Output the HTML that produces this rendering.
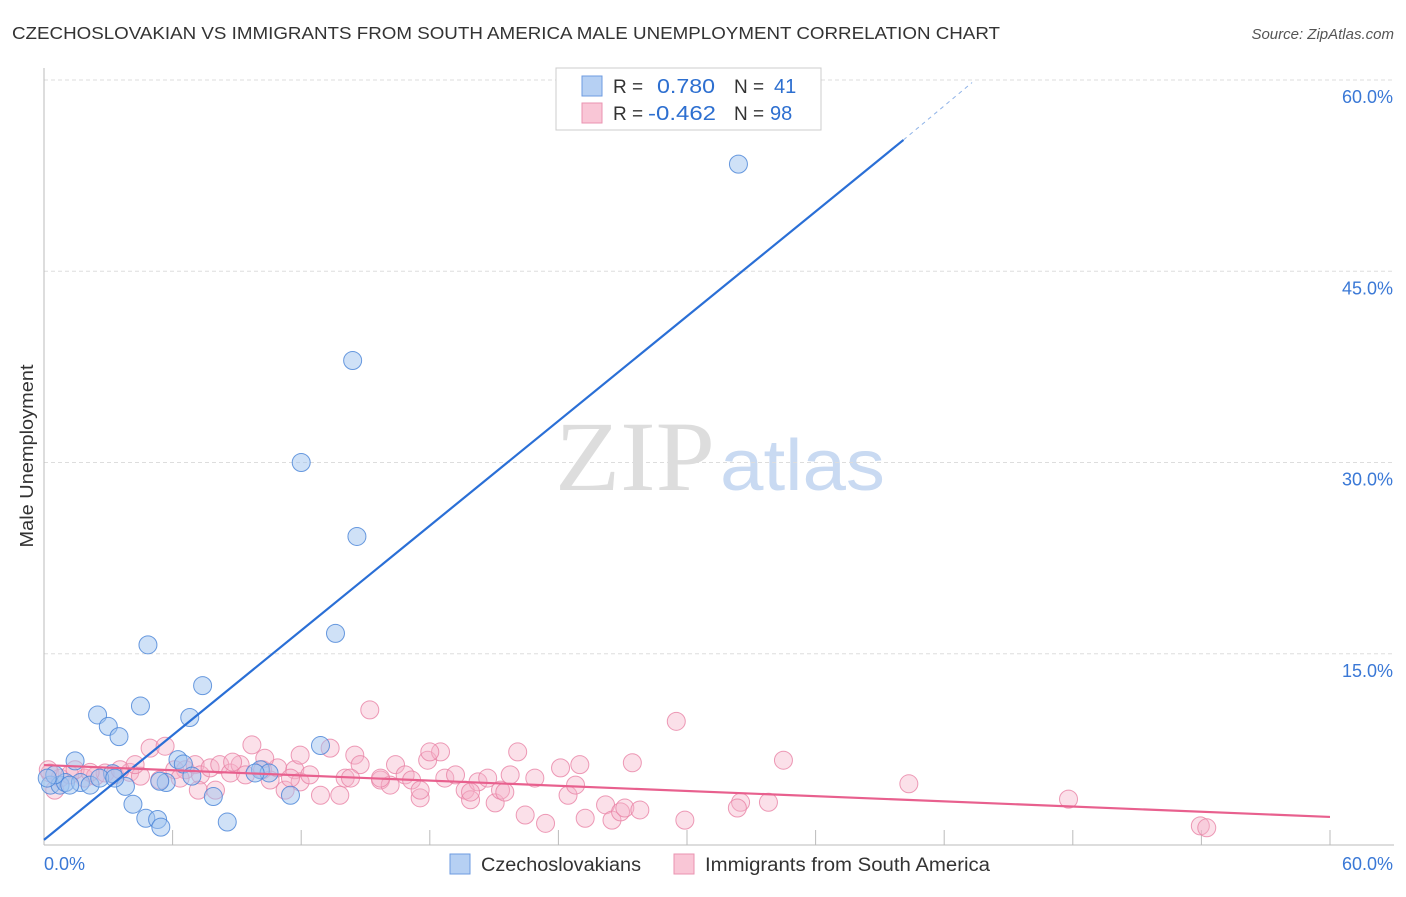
<!DOCTYPE html>
<html><head><meta charset="utf-8"><style>
body{margin:0;background:#fff;font-family:"Liberation Sans",sans-serif;}
</style></head><body>
<svg id="c" width="1406" height="892" xmlns="http://www.w3.org/2000/svg" style="font-family:'Liberation Sans',sans-serif">
<text x="12" y="39" font-size="17.5" fill="#333" textLength="988" lengthAdjust="spacingAndGlyphs">CZECHOSLOVAKIAN VS IMMIGRANTS FROM SOUTH AMERICA MALE UNEMPLOYMENT CORRELATION CHART</text>
<text x="1394" y="39" font-size="15" fill="#555" font-style="italic" text-anchor="end">Source: ZipAtlas.com</text>
<text x="33" y="456" font-size="18" fill="#333" text-anchor="middle" textLength="183" lengthAdjust="spacingAndGlyphs" transform="rotate(-90 33 456)">Male Unemployment</text>
<g><text x="555" y="490" font-size="100" fill="#ddd" font-family="Liberation Serif,serif" textLength="160" lengthAdjust="spacingAndGlyphs">ZIP</text><text x="720" y="490" font-size="72" fill="#c9daf2" textLength="165" lengthAdjust="spacingAndGlyphs">atlas</text></g>
<g id="grid"></g><g id="axes"></g><g id="pts"></g><g id="lines"></g>
<g>
<rect x="556" y="68" width="265" height="62" fill="#fff" stroke="#ccc"/>
<rect x="582" y="76" width="20" height="20" fill="#b6d0f3" stroke="#6e9be0"/>
<rect x="582" y="103" width="20" height="20" fill="#f9c6d6" stroke="#ea93b0"/>
<text x="613" y="93" font-size="19" fill="#333">R = </text><text x="657" y="93" font-size="20" fill="#2d6fd0" textLength="58" lengthAdjust="spacingAndGlyphs">0.780</text>
<text x="734" y="93" font-size="19" fill="#333">N = </text><text x="774" y="93" font-size="20" fill="#2d6fd0">41</text>
<text x="613" y="120" font-size="19" fill="#333">R = </text><text x="648" y="120" font-size="20" fill="#2d6fd0" textLength="68" lengthAdjust="spacingAndGlyphs">-0.462</text>
<text x="734" y="120" font-size="19" fill="#333">N = </text><text x="770" y="120" font-size="20" fill="#2d6fd0">98</text>
</g>
<g>
<rect x="450" y="854" width="20" height="20" fill="#b6d0f3" stroke="#6e9be0"/>
<text x="481" y="871" font-size="19" fill="#333" textLength="160" lengthAdjust="spacingAndGlyphs">Czechoslovakians</text>
<rect x="674" y="854" width="20" height="20" fill="#f9c6d6" stroke="#ea93b0"/>
<text x="705" y="871" font-size="19" fill="#333" textLength="285" lengthAdjust="spacingAndGlyphs">Immigrants from South America</text>
</g>
</svg>
<script>
const yTicks=[15,30,45,60];
const xLabels=["0.0%","60.0%"];
const blueX=[32.4,14.4,12.0,14.6,13.6,4.85,7.4,2.5,4.5,6.8,3.0,3.5,12.9,1.45,6.25,6.5,5.7,6.9,10.1,10.5,9.85,3.2,3.8,4.15,4.75,5.3,5.45,7.9,8.55,11.5,0.3,0.75,1.0,1.7,2.15,2.6,0.5,3.3,0.15,5.4,1.2];
const blueY=[53.4,38.0,30.0,24.2,16.6,15.7,12.5,10.2,10.9,10.0,9.3,8.5,7.8,6.6,6.7,6.35,4.9,5.4,5.9,5.65,5.65,5.6,4.6,3.2,2.1,2.0,1.4,3.8,1.8,3.9,4.7,4.7,4.9,4.9,4.7,5.25,5.5,5.25,5.25,5.0,4.7];
const pinkX=[0.28,0.75,1.2,1.9,2.4,2.85,3.3,4.0,4.5,4.95,5.65,6.1,5.4,6.6,7.05,7.3,7.75,8.2,8.7,9.15,9.7,9.4,10.2,10.55,10.9,11.25,11.7,11.95,12.4,12.9,13.35,13.8,14.05,14.5,14.75,15.2,15.7,16.15,16.4,16.85,17.15,17.55,17.9,18.5,18.7,19.2,19.65,19.9,20.25,20.7,21.05,21.3,21.5,21.75,22.1,22.45,22.9,23.4,24.1,24.45,24.8,25.0,25.25,26.2,26.5,26.9,27.1,27.45,27.8,29.5,29.9,32.5,32.35,33.8,34.5,40.35,47.8,53.95,54.25,0.2,0.5,1.45,2.15,3.55,4.25,7.2,8.0,8.8,10.3,11.5,14.3,17.55,18.0,19.9,11.95,6.35,15.7];
const pinkY=[5.65,5.25,5.5,5.25,5.4,5.65,5.5,5.7,5.4,7.6,7.75,5.9,5.1,5.9,6.3,5.5,6.05,6.3,5.65,6.3,7.85,5.5,5.9,5.1,6.05,4.3,5.9,4.95,5.5,3.9,7.6,3.9,5.25,7.05,6.3,10.6,5.1,4.7,6.3,5.5,5.1,3.7,6.65,7.3,5.25,5.5,4.3,3.55,4.95,5.25,3.3,4.3,4.15,5.5,7.3,2.35,5.25,1.7,6.05,3.9,4.7,6.3,2.1,3.15,1.95,2.6,2.9,6.45,2.75,9.7,1.95,3.35,2.9,3.35,6.65,4.8,3.6,1.5,1.35,5.9,4.3,5.9,5.7,5.9,6.3,4.3,4.3,6.5,6.8,5.25,5.25,4.3,7.3,4.15,7.05,5.25,5.25];
const blueTrend=[[0,0.4],[40.1,55.3]];
const blueDash=[[40.1,55.3],[43.3,59.8]];
const pinkTrend=[[0,6.27],[60,2.2]];
const X=v=>44+v/60*1286, Y=v=>845-v/60*765;
const NS="http://www.w3.org/2000/svg";
function mk(p,t,a){const e=document.createElementNS(NS,t);for(const k in a)e.setAttribute(k,a[k]);p.appendChild(e);return e;}
const grid=document.getElementById('grid'),axes=document.getElementById('axes'),pts=document.getElementById('pts'),lines=document.getElementById('lines');
yTicks.forEach(t=>{const g=mk(grid,'line',{x1:44,x2:1394,y1:Y(t),y2:Y(t),stroke:'#ddd','stroke-dasharray':'4,3'});


const l=mk(grid,'text',{x:1393,y:Y(t)+23,'font-size':18,fill:'#3a78d6','text-anchor':'end'});l.textContent=t.toFixed(1)+'%';

});
const ya=mk(axes,'line',{x1:44,x2:44,y1:68,y2:845,stroke:'#bbb'});


const xa=mk(axes,'line',{x1:44,x2:1394,y1:845,y2:845,stroke:'#bbb'});


for(let i=1;i<=10;i++){const tk=mk(axes,'line',{x1:X(i*6),x2:X(i*6),y1:830,y2:845,stroke:'#bbb'});

}
const xl0=mk(axes,'text',{x:44,y:870,'font-size':18,fill:'#3a78d6'});xl0.textContent=xLabels[0];


const xl1=mk(axes,'text',{x:1393,y:870,'font-size':18,fill:'#3a78d6','text-anchor':'end'});xl1.textContent=xLabels[1];


pinkX.forEach((v,i)=>{const c=mk(pts,'circle',{cx:X(v),cy:Y(pinkY[i]),r:9,fill:'rgba(246,178,200,0.4)',stroke:'rgba(232,130,165,0.8)','stroke-width':1});

});
blueX.forEach((v,i)=>{const c=mk(pts,'circle',{cx:X(v),cy:Y(blueY[i]),r:9,fill:'rgba(160,195,240,0.5)',stroke:'rgba(70,130,215,0.8)','stroke-width':1});

});
const bl=mk(lines,'line',{x1:X(blueTrend[0][0]),y1:Y(blueTrend[0][1]),x2:X(blueTrend[1][0]),y2:Y(blueTrend[1][1]),stroke:'#2a6fd6','stroke-width':2.2});


const bd=mk(lines,'line',{x1:X(blueDash[0][0]),y1:Y(blueDash[0][1]),x2:X(blueDash[1][0]),y2:Y(blueDash[1][1]),stroke:'#8fb3e8','stroke-width':1,'stroke-dasharray':'4,4'});


const pl=mk(lines,'line',{x1:X(pinkTrend[0][0]),y1:Y(pinkTrend[0][1]),x2:X(pinkTrend[1][0]),y2:Y(pinkTrend[1][1]),stroke:'#e8608e','stroke-width':2.2});


</script>
</body></html>
